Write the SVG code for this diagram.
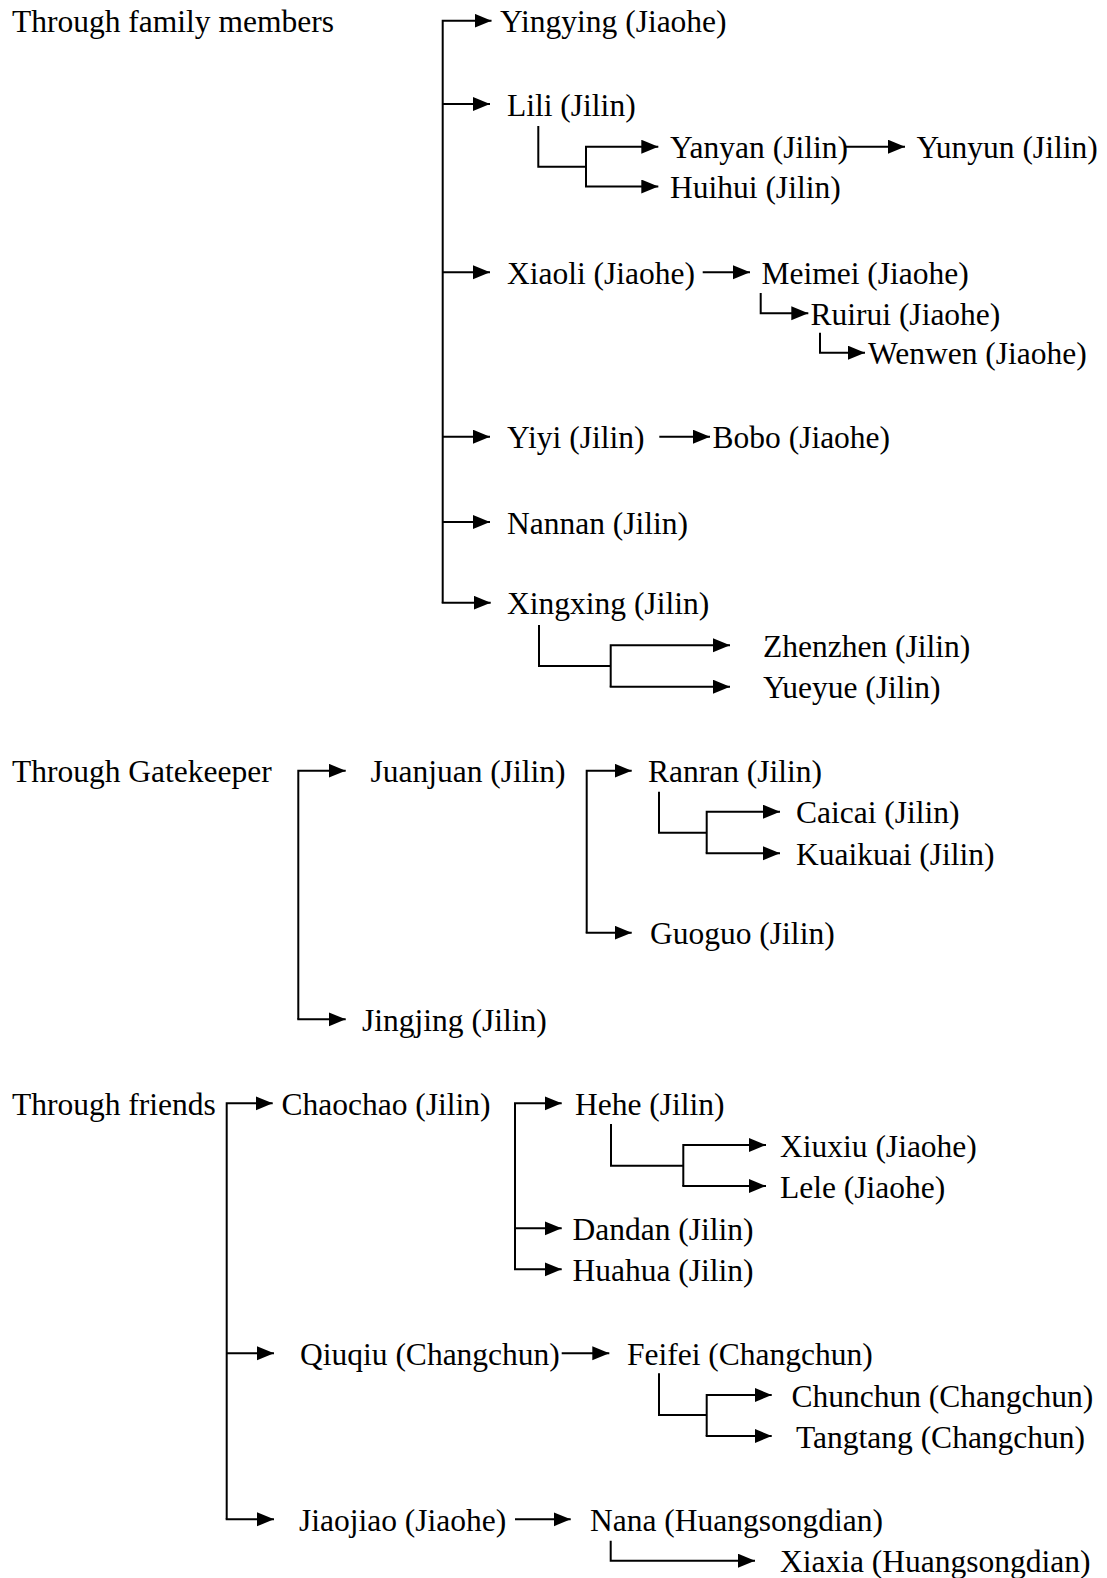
<svg xmlns="http://www.w3.org/2000/svg" width="1107" height="1578" viewBox="0 0 1107 1578">
  <style>
    text { font-family: "Liberation Serif", "Times New Roman", serif; font-size: 31.5px; fill: #000; }
    .c { fill: none; stroke: #000; stroke-width: 2; stroke-linejoin: miter; }
    .a { marker-end: url(#arrow); }
  </style>
  <defs>
    <marker id="arrow" markerUnits="userSpaceOnUse" markerWidth="18" markerHeight="15" refX="17" refY="7" orient="auto">
      <path d="M0,0 L17,7 L0,14 Z" fill="#000"/>
    </marker>
  </defs>
  <rect width="1107" height="1578" fill="#fff"/>

  <!-- connectors -->
  <g id="connectors">
    <!-- family members -->
    <path class="c a" d="M442.7,602.7 V20.7 H491.5"/>
    <path class="c a" d="M442.7,104 H490"/>
    <path class="c a" d="M442.7,272.3 H490"/>
    <path class="c a" d="M442.7,436.7 H490"/>
    <path class="c a" d="M442.7,522 H490"/>
    <path class="c a" d="M441.7,602.7 H490.7"/>
    <path class="c" d="M538.3,126 V166.7 H586"/>
    <path class="c a" d="M586,186.5 V146.7 H658.3"/>
    <path class="c a" d="M585,186.5 H658.3"/>
    <path class="c a" d="M844,146.7 H905"/>
    <path class="c a" d="M702.7,272.3 H750"/>
    <path class="c a" d="M760.7,293 V313.3 H808.3"/>
    <path class="c a" d="M820,332.7 V352.7 H865"/>
    <path class="c a" d="M659.3,436.7 H710"/>
    <path class="c" d="M539,625 V666 H610.7"/>
    <path class="c a" d="M610.7,686.7 V645.3 H730"/>
    <path class="c a" d="M609.7,686.7 H730"/>
    <!-- gatekeeper -->
    <path class="c a" d="M298.3,1019.3 V770.7 H345.7"/>
    <path class="c a" d="M297.3,1019.3 H345.7"/>
    <path class="c a" d="M586.7,932.7 V770.7 H631.7"/>
    <path class="c a" d="M585.7,932.7 H631.7"/>
    <path class="c" d="M659,791.7 V832.7 H706.7"/>
    <path class="c a" d="M706.7,853.3 V811.7 H780"/>
    <path class="c a" d="M705.7,853.3 H780"/>
    <!-- friends -->
    <path class="c a" d="M226.7,1519.3 V1103.3 H272.7"/>
    <path class="c a" d="M226.7,1353.3 H274"/>
    <path class="c a" d="M225.7,1519.3 H274"/>
    <path class="c a" d="M515,1269.3 V1103.3 H561.7"/>
    <path class="c a" d="M515,1228.3 H561.7"/>
    <path class="c a" d="M514,1269.3 H561.7"/>
    <path class="c" d="M611,1124 V1165.7 H683.3"/>
    <path class="c a" d="M683.3,1186 V1145 H766"/>
    <path class="c a" d="M682.3,1186 H766"/>
    <path class="c a" d="M561.7,1353.3 H609.3"/>
    <path class="c" d="M659,1373.3 V1415 H706.7"/>
    <path class="c a" d="M706.7,1436 V1395 H771.7"/>
    <path class="c a" d="M705.7,1436 H771.7"/>
    <path class="c a" d="M515,1519.3 H570.7"/>
    <path class="c a" d="M610.7,1540.7 V1560.7 H755"/>
  </g>

  <!-- section labels -->
  <g id="label-family"><text x="12" y="31.7">Through family members</text></g>
  <g id="label-gatekeeper"><text x="12" y="781.7">Through Gatekeeper</text></g>
  <g id="label-friends"><text x="12" y="1115">Through friends</text></g>

  <!-- family members -->
  <g id="yingying"><text x="500" y="32.2">Yingying (Jiaohe)</text></g>
  <g id="lili"><text x="507" y="115.5">Lili (Jilin)</text></g>
  <g id="yanyan"><text x="670" y="158.2">Yanyan (Jilin)</text></g>
  <g id="yunyun"><text x="916.5" y="158.2">Yunyun (Jilin)</text></g>
  <g id="huihui"><text x="670" y="198">Huihui (Jilin)</text></g>
  <g id="xiaoli"><text x="507" y="283.8">Xiaoli (Jiaohe)</text></g>
  <g id="meimei"><text x="761.5" y="283.8">Meimei (Jiaohe)</text></g>
  <g id="ruirui"><text x="810.5" y="324.8">Ruirui (Jiaohe)</text></g>
  <g id="wenwen"><text x="868" y="364.2">Wenwen (Jiaohe)</text></g>
  <g id="yiyi"><text x="507" y="448.2">Yiyi (Jilin)</text></g>
  <g id="bobo"><text x="712.5" y="448.2">Bobo (Jiaohe)</text></g>
  <g id="nannan"><text x="507" y="533.5">Nannan (Jilin)</text></g>
  <g id="xingxing"><text x="507" y="614.2">Xingxing (Jilin)</text></g>
  <g id="zhenzhen"><text x="763" y="656.8">Zhenzhen (Jilin)</text></g>
  <g id="yueyue"><text x="763" y="698.2">Yueyue (Jilin)</text></g>

  <!-- gatekeeper -->
  <g id="juanjuan"><text x="370.5" y="782.2">Juanjuan (Jilin)</text></g>
  <g id="jingjing"><text x="362" y="1030.8">Jingjing (Jilin)</text></g>
  <g id="ranran"><text x="648" y="782.2">Ranran (Jilin)</text></g>
  <g id="caicai"><text x="796" y="823.2">Caicai (Jilin)</text></g>
  <g id="kuaikuai"><text x="796" y="864.8">Kuaikuai (Jilin)</text></g>
  <g id="guoguo"><text x="650" y="944.2">Guoguo (Jilin)</text></g>

  <!-- friends -->
  <g id="chaochao"><text x="281.5" y="1114.8">Chaochao (Jilin)</text></g>
  <g id="hehe"><text x="575" y="1114.8">Hehe (Jilin)</text></g>
  <g id="xiuxiu"><text x="780" y="1156.5">Xiuxiu (Jiaohe)</text></g>
  <g id="lele"><text x="780" y="1197.5">Lele (Jiaohe)</text></g>
  <g id="dandan"><text x="572.5" y="1239.8">Dandan (Jilin)</text></g>
  <g id="huahua"><text x="572.5" y="1280.8">Huahua (Jilin)</text></g>
  <g id="qiuqiu"><text x="300" y="1364.8">Qiuqiu (Changchun)</text></g>
  <g id="feifei"><text x="627" y="1364.8">Feifei (Changchun)</text></g>
  <g id="chunchun"><text x="791.5" y="1406.5">Chunchun (Changchun)</text></g>
  <g id="tangtang"><text x="796" y="1447.5">Tangtang (Changchun)</text></g>
  <g id="jiaojiao"><text x="299" y="1530.8">Jiaojiao (Jiaohe)</text></g>
  <g id="nana"><text x="590" y="1530.8">Nana (Huangsongdian)</text></g>
  <g id="xiaxia"><text x="780" y="1572.2">Xiaxia (Huangsongdian)</text></g>
</svg>
